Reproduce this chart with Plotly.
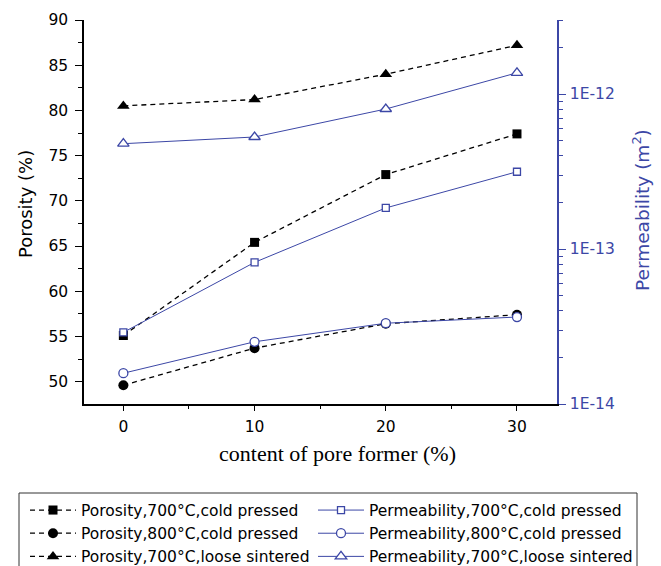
import plotly.graph_objects as go

# ---- data -------------------------------------------------------------
pore_former = [0, 10, 20, 30]  # content of pore former (%)

porosity_700_cold = [55.1, 65.4, 72.9, 77.4]
porosity_800_cold = [49.6, 53.7, 56.4, 57.4]
porosity_700_loose = [80.5, 81.2, 84.0, 87.2]

perm_700_cold = [2.9e-14, 8.2e-14, 1.84e-13, 3.15e-13]
perm_800_cold = [1.58e-14, 2.52e-14, 3.32e-14, 3.64e-14]
perm_700_loose = [4.78e-13, 5.28e-13, 8.0e-13, 1.37e-12]

perm_ticks = [1e-14, 1e-13, 1e-12]
perm_tick_text = ["1E-14", "1E-13", "1E-12"]

# ---- styling ----------------------------------------------------------
W, H = 661, 566
ML, MR, MT, MB = 84, 104, 20, 162
PW, PH = W - ML - MR, H - MT - MB

BLACK = "#000000"
BLUE = "#3C47A6"
SANS = "DejaVu Sans, Verdana, sans-serif"
SERIF = "Liberation Serif, Times New Roman, serif"
DASH = "5px,4px"


def px_x(p):
    return (p - ML) / PW


def px_y(p):
    return (H - MB - p) / PH


fig = go.Figure()

porosity_series = [
    ("Porosity,700°C,cold pressed", porosity_700_cold, "square", 9),
    ("Porosity,800°C,cold pressed", porosity_800_cold, "circle", 10),
    ("Porosity,700°C,loose sintered", porosity_700_loose, "triangle-up", 11),
]
# hollow markers are white-filled so they sit cleanly over the porosity marks
perm_series = [
    ("Permeability,700°C,cold pressed", perm_700_cold, "square", 7),
    ("Permeability,800°C,cold pressed", perm_800_cold, "circle", 9),
    ("Permeability,700°C,loose sintered", perm_700_loose, "triangle-up", 10),
]

for name, vals, sym, size in porosity_series:
    fig.add_trace(go.Scatter(
        x=pore_former, y=vals, name=name, mode="lines+markers",
        line=dict(color=BLACK, width=1.3, dash=DASH),
        marker=dict(symbol=sym, size=size, color=BLACK),
        yaxis="y", legend="legend",
    ))

for name, vals, sym, size in perm_series:
    fig.add_trace(go.Scatter(
        x=pore_former, y=vals, name=name, mode="lines+markers",
        line=dict(color=BLUE, width=1),
        marker=dict(symbol=sym, size=size, color="white", line=dict(width=1.3, color=BLUE)),
        yaxis="y2", legend="legend2",
    ))

x_range = [-3, 33.05]
y_range = [90 - PH / 9.04, 90]
log_decade_px = 155.0
y2_range = [-14, -14 + PH / log_decade_px]

perm_minor = [m * 10.0 ** e for e in (-14, -13, -12) for m in range(2, 10)]

legend_common = dict(
    orientation="v", xanchor="left", yanchor="top",
    bgcolor="rgba(0,0,0,0)", borderwidth=0,
    font=dict(size=15.5, family=SANS, color=BLACK),
    itemwidth=46, traceorder="normal",
)

fig.update_layout(
    width=W, height=H,
    margin=dict(l=ML, r=MR, t=MT, b=MB, autoexpand=False),
    paper_bgcolor="white", plot_bgcolor="white",
    font=dict(family=SANS, color=BLACK),
    xaxis=dict(
        range=x_range, showgrid=False, zeroline=False,
        showline=True, linecolor=BLACK, linewidth=1.5,
        tickmode="array", tickvals=pore_former,
        ticks="outside", ticklen=5, tickwidth=1.3, tickcolor=BLACK,
        minor=dict(ticks="outside", ticklen=3, dtick=5, tick0=0, tickcolor=BLACK, tickwidth=1.3),
        tickfont=dict(size=15.5, family=SANS, color=BLACK),
        ticklabelstandoff=3,
    ),
    xaxis2=dict(
        range=x_range, overlaying="x", side="top", anchor="y",
        showgrid=False, zeroline=False, showticklabels=False,
        showline=True, linecolor=BLACK, linewidth=1.5,
        tickmode="array", tickvals=pore_former,
        ticks="inside", ticklen=5, tickwidth=1.3, tickcolor=BLACK,
        minor=dict(ticks="inside", ticklen=3, dtick=5, tick0=0, tickcolor=BLACK, tickwidth=1.3),
    ),
    yaxis=dict(
        range=y_range, showgrid=False, zeroline=False,
        showline=True, linecolor=BLACK, linewidth=1.5,
        tickmode="linear", tick0=50, dtick=5,
        ticks="outside", ticklen=7, tickwidth=1.3, tickcolor=BLACK,
        minor=dict(ticks="outside", ticklen=4, dtick=2.5, tick0=50, tickcolor=BLACK, tickwidth=1.3),
        tickfont=dict(size=15.5, family=SANS, color=BLACK),
        ticklabelstandoff=4,
    ),
    yaxis2=dict(
        type="log", range=y2_range, overlaying="y", side="right", anchor="x",
        showgrid=False, zeroline=False,
        showline=True, linecolor=BLUE, linewidth=1.5,
        tickmode="array", tickvals=perm_ticks, ticktext=perm_tick_text,
        ticks="outside", ticklen=7, tickwidth=1.3, tickcolor=BLUE,
        minor=dict(ticks="outside", ticklen=4, tickmode="array", tickvals=perm_minor,
                   tickcolor=BLUE, tickwidth=1.3),
        tickfont=dict(size=15.5, family=SANS, color=BLUE),
        ticklabelstandoff=1,
    ),
    legend=dict(legend_common, x=px_x(25), y=px_y(493.5)),
    legend2=dict(legend_common, x=px_x(313), y=px_y(493.5)),
    showlegend=True,
    shapes=[
        # frame drawn round both legend columns
        dict(type="rect", xref="paper", yref="paper",
             x0=px_x(19), x1=px_x(637), y0=px_y(493), y1=px_y(620),
             line=dict(color="#333333", width=1), fillcolor="rgba(0,0,0,0)",
             layer="below"),
    ],
    annotations=[
        dict(text="Porosity (%)", x=px_x(25), y=px_y(204), xref="paper", yref="paper",
             textangle=-90, showarrow=False, xanchor="center", yanchor="middle",
             font=dict(size=18, family=SANS, color=BLACK)),
        dict(text="Permeability (m<sup>2</sup>)", x=px_x(641), y=px_y(210),
             xref="paper", yref="paper", textangle=-90, showarrow=False,
             xanchor="center", yanchor="middle",
             font=dict(size=18.5, family=SANS, color=BLUE)),
        dict(text="content of pore former (%)", x=px_x(337), y=px_y(453),
             xref="paper", yref="paper", showarrow=False,
             xanchor="center", yanchor="middle",
             font=dict(size=22, family=SERIF, color=BLACK)),
    ],
)

fig.write_html("out.html")
